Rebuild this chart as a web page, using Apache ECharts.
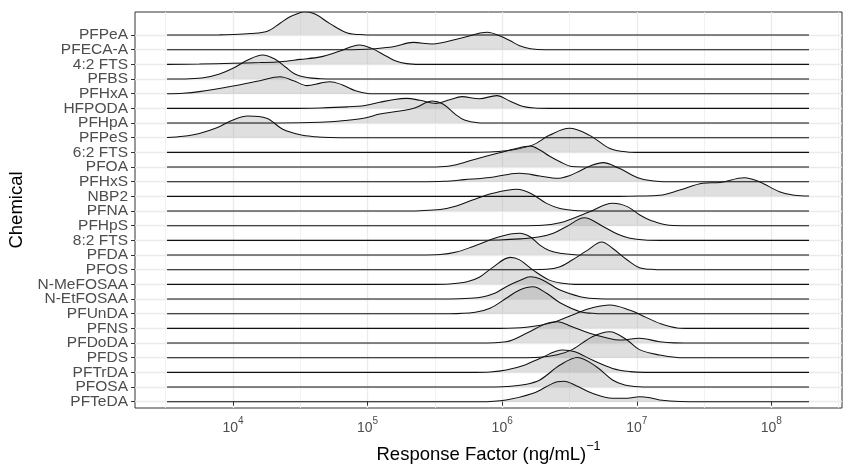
<!DOCTYPE html>
<html><head><meta charset="utf-8">
<script src="https://cdn.jsdelivr.net/npm/echarts@6/dist/echarts.min.js"></script>
<style>html,body{margin:0;padding:0;background:#fff}#c{width:843px;height:465px}</style>
</head><body><div id="c"></div>
<script>
// Chemicals, listed top to bottom as in the chart
const chemicals = ['PFPeA','PFECA-A','4:2 FTS','PFBS','PFHxA','HFPODA','PFHpA','PFPeS','6:2 FTS','PFOA','PFHxS','NBP2','PFNA','PFHpS','8:2 FTS','PFDA','PFOS','N-MeFOSAA','N-EtFOSAA','PFUnDA','PFNS','PFDoDA','PFDS','PFTrDA','PFOSA','PFTeDA'];
const xTickExponents = [4, 5, 6, 7, 8];
const xMinorExponents = [3.5, 4.5, 5.5, 6.5, 7.5, 8.5];

// Ridges: [log10(response factor), scaled density height]
const ridge_PFPeA = [[3.51,0],[3.90,0.01],[4.00,0.03],[4.13,0.10],[4.25,0.24],[4.35,0.80],[4.42,1.23],[4.50,1.53],[4.53,1.59],[4.61,1.43],[4.72,0.78],[4.85,0.14],[4.97,0.02],[5.09,0],[8.28,0]];
const ridge_PFECA_A = [[3.51,0],[4.72,0],[4.94,0.02],[5.05,0.07],[5.19,0.20],[5.34,0.50],[5.48,0.39],[5.69,0.78],[5.89,1.19],[5.98,0.95],[6.06,0.61],[6.13,0.27],[6.21,0.07],[6.32,0],[8.28,0]];
const ridge_42FTS = [[3.51,0],[3.75,0.02],[4.00,0.07],[4.20,0.12],[4.35,0.18],[4.50,0.34],[4.65,0.51],[4.79,0.89],[4.94,1.32],[5.03,1.09],[5.13,0.61],[5.20,0.27],[5.29,0.05],[5.39,0],[8.28,0]];
const ridge_PFBS = [[3.51,0],[3.68,0.02],[3.79,0.10],[3.90,0.34],[4.00,0.73],[4.11,1.30],[4.22,1.64],[4.31,1.36],[4.39,0.82],[4.46,0.34],[4.55,0.10],[4.65,0.02],[4.76,0],[8.28,0]];
const ridge_PFHxA = [[3.51,0],[3.63,0.03],[3.75,0.14],[4.00,0.52],[4.20,0.89],[4.35,1.16],[4.45,0.89],[4.55,0.55],[4.65,0.72],[4.72,0.82],[4.81,0.61],[4.91,0.20],[5.00,0.02],[5.09,0],[8.28,0]];
const ridge_HFPODA = [[3.51,0],[4.42,0],[4.65,0.03],[4.85,0.10],[4.98,0.20],[5.09,0.41],[5.20,0.61],[5.29,0.68],[5.39,0.55],[5.51,0.34],[5.61,0.58],[5.70,0.80],[5.83,0.66],[5.96,0.87],[6.06,0.48],[6.15,0.14],[6.24,0.02],[6.35,0],[8.28,0]];
const ridge_PFHpA = [[3.51,0],[4.35,0],[4.65,0.05],[4.83,0.17],[4.97,0.32],[5.09,0.61],[5.24,0.82],[5.35,1.02],[5.48,1.50],[5.56,1.30],[5.65,0.61],[5.72,0.20],[5.82,0.02],[5.91,0],[8.28,0]];
const ridge_PFPeS = [[3.51,0.02],[3.63,0.10],[3.75,0.29],[3.88,0.68],[4.00,1.21],[4.11,1.48],[4.25,1.32],[4.37,0.58],[4.50,0.20],[4.61,0.07],[4.72,0.01],[4.83,0],[8.28,0]];
const ridge_62FTS = [[3.51,0],[5.76,0],[5.91,0.03],[6.06,0.14],[6.23,0.51],[6.35,1.16],[6.50,1.64],[6.65,1.16],[6.80,0.27],[6.93,0.03],[7.02,0],[8.28,0]];
const ridge_PFOA = [[3.51,0],[5.39,0],[5.54,0.02],[5.65,0.14],[5.78,0.48],[5.98,0.97],[6.09,1.23],[6.21,1.43],[6.28,1.16],[6.35,0.75],[6.43,0.36],[6.52,0.03],[6.65,0],[8.28,0]];
const ridge_PFHxS = [[3.51,0],[5.39,0],[5.57,0.03],[5.72,0.14],[5.91,0.29],[6.03,0.48],[6.13,0.57],[6.28,0.39],[6.41,0.23],[6.50,0.41],[6.58,0.75],[6.65,1.06],[6.75,1.30],[6.87,0.91],[7.02,0.23],[7.17,0.02],[7.32,0],[8.28,0]];
const ridge_NBP2 = [[3.51,0],[6.87,0],[7.02,0.02],[7.17,0.07],[7.32,0.43],[7.49,0.89],[7.62,0.95],[7.80,1.27],[7.91,1.00],[8.06,0.32],[8.17,0.07],[8.28,0.02]];
const ridge_PFNA = [[3.51,0],[5.24,0],[5.39,0.02],[5.54,0.10],[5.66,0.34],[5.78,0.75],[5.93,1.21],[6.11,1.48],[6.21,1.21],[6.33,0.52],[6.43,0.17],[6.54,0.03],[6.65,0],[8.28,0]];
const ridge_PFHpS = [[3.51,0],[6.13,0],[6.30,0.03],[6.43,0.20],[6.52,0.48],[6.65,0.95],[6.82,1.53],[6.93,1.30],[7.02,0.75],[7.11,0.34],[7.24,0.03],[7.39,0],[8.28,0]];
const ridge_82FTS = [[3.51,0],[5.76,0],[5.98,0.03],[6.13,0.10],[6.28,0.24],[6.38,0.48],[6.48,0.95],[6.61,1.54],[6.75,0.95],[6.86,0.41],[6.95,0.14],[7.06,0.02],[7.17,0],[8.28,0]];
const ridge_PFDA = [[3.51,0],[5.39,0],[5.54,0.03],[5.66,0.20],[5.78,0.57],[5.98,1.25],[6.13,1.48],[6.21,1.23],[6.28,0.68],[6.35,0.31],[6.43,0.12],[6.54,0.02],[6.65,0],[8.28,0]];
const ridge_PFOS = [[3.51,0],[6.13,0],[6.33,0.03],[6.43,0.20],[6.52,0.66],[6.63,1.30],[6.74,1.89],[6.82,1.46],[6.93,0.66],[7.02,0.14],[7.13,0.02],[7.24,0],[8.28,0]];
const ridge_NMeFOSAA = [[3.51,0],[5.46,0],[5.61,0.03],[5.74,0.18],[5.83,0.48],[5.93,1.16],[6.06,1.84],[6.13,1.67],[6.23,0.97],[6.35,0.29],[6.45,0.07],[6.54,0],[8.28,0]];
const ridge_NEtFOSAA = [[3.51,0],[5.61,0],[5.76,0.05],[5.86,0.16],[5.95,0.41],[6.03,0.84],[6.13,1.26],[6.21,1.52],[6.30,1.30],[6.43,0.61],[6.58,0.16],[6.69,0.03],[6.80,0],[8.28,0]];
const ridge_PFUnDA = [[3.51,0],[5.61,0],[5.80,0.10],[5.91,0.37],[6.03,1.05],[6.13,1.62],[6.23,1.84],[6.33,1.39],[6.43,0.75],[6.58,0.14],[6.69,0.02],[6.80,0],[8.28,0]];
const ridge_PFNS = [[3.51,0],[5.98,0],[6.18,0.07],[6.38,0.41],[6.55,1.02],[6.67,1.40],[6.80,1.59],[6.95,1.23],[7.07,0.75],[7.17,0.34],[7.30,0.03],[7.39,0],[8.28,0]];
const ridge_PFDoDA = [[3.51,0],[5.83,0],[6.03,0.09],[6.18,0.66],[6.33,1.34],[6.41,1.45],[6.52,1.11],[6.65,0.66],[6.78,0.34],[6.87,0.20],[7.02,0.32],[7.17,0.09],[7.28,0.01],[7.39,0],[8.28,0]];
const ridge_PFDS = [[3.51,0],[6.13,0],[6.28,0.03],[6.41,0.20],[6.52,0.55],[6.67,1.43],[6.80,1.77],[6.93,1.19],[7.02,0.55],[7.17,0.18],[7.30,0.02],[7.39,0],[8.28,0]];
const ridge_PFTrDA = [[3.51,0],[5.76,0],[5.91,0.03],[6.03,0.16],[6.17,0.51],[6.28,0.95],[6.45,1.52],[6.54,1.40],[6.67,0.84],[6.82,0.27],[6.95,0.05],[7.06,0],[8.28,0]];
const ridge_PFOSA = [[3.51,0],[5.91,0],[6.03,0.03],[6.17,0.17],[6.28,0.48],[6.43,1.50],[6.56,2.02],[6.70,1.38],[6.82,0.48],[6.91,0.14],[7.02,0.02],[7.13,0],[8.28,0]];
const ridge_PFTeDA = [[3.51,0],[5.83,0],[6.03,0.12],[6.23,0.57],[6.41,1.36],[6.46,1.40],[6.55,1.09],[6.67,0.57],[6.82,0.23],[6.93,0.24],[7.02,0.34],[7.10,0.27],[7.17,0.12],[7.32,0.01],[7.43,0],[8.28,0]];

const ridges = [ridge_PFPeA, ridge_PFECA_A, ridge_42FTS, ridge_PFBS, ridge_PFHxA, ridge_HFPODA, ridge_PFHpA, ridge_PFPeS, ridge_62FTS, ridge_PFOA, ridge_PFHxS, ridge_NBP2, ridge_PFNA, ridge_PFHpS, ridge_82FTS, ridge_PFDA, ridge_PFOS, ridge_NMeFOSAA, ridge_NEtFOSAA, ridge_PFUnDA, ridge_PFNS, ridge_PFDoDA, ridge_PFDS, ridge_PFTrDA, ridge_PFOSA, ridge_PFTeDA];

const n = chemicals.length;
const yPositions = chemicals.map((c, i) => n - 1 - i);
const yEven = yPositions.filter(v => v % 2 === 0);
const yOdd = yPositions.filter(v => v % 2 === 1);
const font = "'Liberation Sans', Arial, Helvetica, sans-serif";

const series = chemicals.map((name, i) => {
  const base = n - 1 - i;
  return {
    type: 'line', name: name, xAxisIndex: 0, yAxisIndex: 0,
    data: ridges[i].map(p => [p[0], base + p[1]]),
    smooth: 0.35, showSymbol: false, silent: true, animation: false,
    lineStyle: { color: '#111111', width: 1.05 },
    areaStyle: { color: 'rgba(150,150,150,0.44)', origin: base },
    z: 3
  };
});

function yAxisFor(values, withName) {
  const ax = {
    type: 'value', min: -0.43, max: 26.57, position: 'left', offset: 0,
    axisLine: { show: false },
    axisTick: { show: true, customValues: values, length: 4, lineStyle: { color: '#333333', width: 1 } },
    axisLabel: { customValues: values, margin: 7, fontSize: 15.5, color: '#4d4d4d',
      showMinLabel: true, showMaxLabel: true, hideOverlap: false,
      formatter: v => chemicals[n - 1 - Math.round(v)] },
    splitLine: { show: true, lineStyle: { color: '#ebebeb', width: 1.3 } }
  };
  if (withName) {
    ax.name = 'Chemical'; ax.nameLocation = 'middle'; ax.nameGap = 105; ax.nameRotate = 90;
    ax.nameTextStyle = { fontSize: 18.5, color: '#000', fontFamily: font };
  }
  return ax;
}

const chart = echarts.init(document.getElementById('c'), null, { renderer: 'canvas' });
chart.setOption({
  animation: false,
  textStyle: { fontFamily: font },
  grid: { left: 135, right: 1, top: 12, bottom: 57, containLabel: false, outerBoundsMode: 'none',
    show: true, borderColor: '#333333', borderWidth: 1, backgroundColor: 'transparent' },
  xAxis: [
    {
      type: 'value', min: 3.272, max: 8.525, position: 'bottom',
      axisLine: { show: false },
      axisTick: { show: true, customValues: xTickExponents, length: 4, lineStyle: { color: '#333333', width: 1 } },
      axisLabel: {
        customValues: xTickExponents, margin: 8, color: '#4d4d4d', showMinLabel: true, showMaxLabel: true,
        formatter: v => '{b|10}{s|' + v + '}',
        rich: {
          b: { fontSize: 14, color: '#4d4d4d', fontFamily: font, lineHeight: 19, verticalAlign: 'bottom' },
          s: { fontSize: 10, color: '#4d4d4d', fontFamily: font, lineHeight: 19, verticalAlign: 'top' }
        }
      },
      splitLine: { show: true, lineStyle: { color: '#ebebeb', width: 1.3 } },
      name: '{a|Response Factor (ng/mL)}{s|−1}', nameLocation: 'middle', nameGap: 27,
      nameTextStyle: {
        rich: {
          a: { fontSize: 18.5, color: '#000', fontFamily: font, lineHeight: 25, verticalAlign: 'bottom' },
          s: { fontSize: 12.5, color: '#000', fontFamily: font, lineHeight: 25, verticalAlign: 'top' }
        }
      }
    },
    {
      type: 'value', min: 3.272, max: 8.525, position: 'bottom',
      axisLine: { show: false },
      axisTick: { show: false, customValues: xMinorExponents },
      axisLabel: { show: false },
      splitLine: { show: true, lineStyle: { color: '#efefef', width: 0.8 } }
    }
  ],
  yAxis: [ yAxisFor(yEven, true), yAxisFor(yOdd, false) ],
  series: series
});
</script>
</body></html>
